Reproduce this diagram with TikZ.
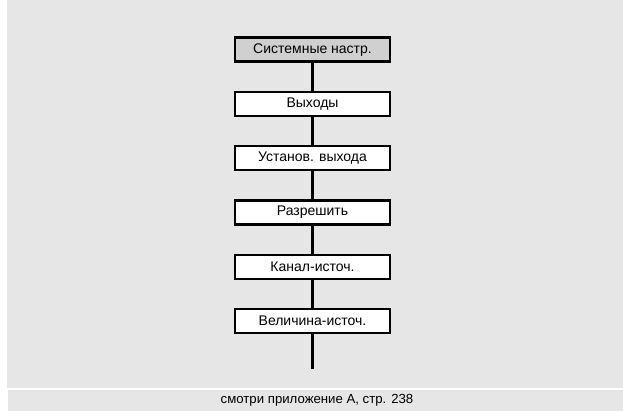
\documentclass[tikz,border=0pt]{standalone}
\usepackage{fontspec}
\setmainfont{Liberation Sans}
\usetikzlibrary{positioning}
\definecolor{panel}{RGB}{230,230,230}
\definecolor{headbox}{RGB}{208,208,208}
\tikzset{
    menubox/.style={
        rectangle,
        draw=black,
        line width=2.4pt,
        fill=white,
        minimum width=154.5pt,
        minimum height=24pt,
        inner sep=0pt,
        font=\fontsize{14}{16}\selectfont
    },
    headmenu/.style={menubox, fill=headbox},
    link/.style={draw=black, line width=2.4pt},
    note/.style={font=\fontsize{13.2}{15}\selectfont}
}
\begin{document}
\begin{tikzpicture}[x=1pt, y=-1pt, node distance=27.9pt]
\useasboundingbox (0,0) rectangle (623,411);

% Panels
\fill[panel] (7,0) rectangle (623,388);
\fill[panel] (8,390) rectangle (623,411);

% Menu path
\node[headmenu] (sys) at (312.5,49.7) {Системные настр.};
\node[menubox, below=of sys] (outs) {Выходы};
\node[menubox, below=of outs] (outset) {Установ. выхода};
\node[menubox, below=of outset] (enable) {Разрешить};
\node[menubox, below=of enable] (chan) {Канал-источ.};
\node[menubox, below=of chan] (value) {Величина-источ.};
\coordinate[below=35pt of value.south] (tail);

\draw[link] (sys) -- (outs);
\draw[link] (outs) -- (outset);
\draw[link] (outset) -- (enable);
\draw[link] (enable) -- (chan);
\draw[link] (chan) -- (value);
\draw[link] (value) -- (tail);

% Footnote
\node[note] (ref) at (317,400) {смотри приложение А, стр. 238};
\end{tikzpicture}
\end{document}
